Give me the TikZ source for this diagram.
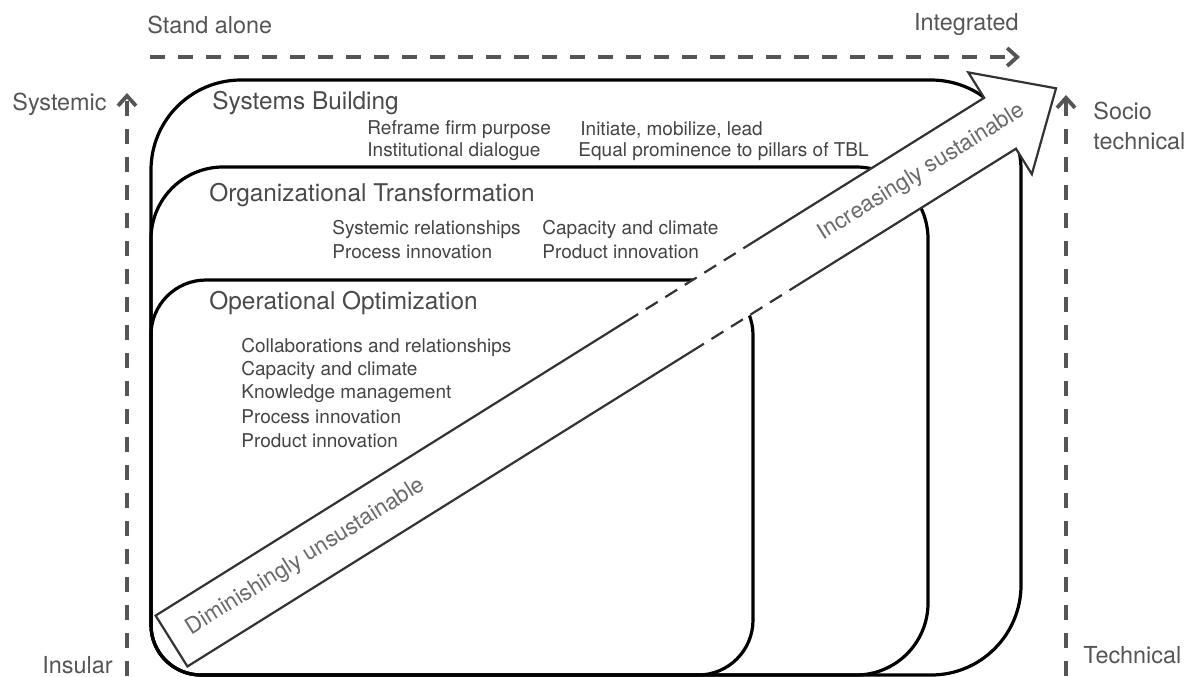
\documentclass[tikz,border=0pt]{standalone}
\usepackage{fontspec}
\setmainfont{TeX Gyre Heros}
\usetikzlibrary{arrows.meta}
\definecolor{axisgray}{HTML}{555555}
\definecolor{titlegray}{HTML}{4A4A4A}
\definecolor{itemgray}{HTML}{444444}
\definecolor{arrowgray}{HTML}{6A6A6A}
\definecolor{edgegray}{HTML}{333333}
\begin{document}
\begin{tikzpicture}[x=0.5pt,y=-0.5pt,
  box/.style={draw=black, line width=1.6pt},
  axis/.style={draw=axisgray, line width=1.9pt, dash pattern=on 7.5pt off 6.5pt,
    -{Straight Barb[length=5pt,width=9pt]}},
  axislabel/.style={font=\fontsize{11.7}{14}\selectfont, text=axisgray, inner sep=0pt},
  title/.style={font=\fontsize{12.2}{14}\selectfont, text=titlegray, inner sep=0pt, anchor=west},
  item/.style={font=\fontsize{9.5}{11}\selectfont, text=itemgray, inner sep=0pt, anchor=west},
  arrowtext/.style={font=\fontsize{11.2}{13}\selectfont, text=arrowgray, inner sep=0pt, anchor=west, rotate=32},
  arrowedge/.style={draw=edgegray, line width=1.1pt, line join=miter},
  arrowdash/.style={arrowedge, dash pattern=on 7pt off 4.5pt},
]
% canvas
\fill[white] (0,0) rectangle (1192,676);
\useasboundingbox (0,0) rectangle (1192,676);

% axis arrows
\coordinate (hs) at (150,57);
\coordinate (he) at (1020,57);
\coordinate (ls) at (127,676);
\coordinate (le) at (127,93);
\coordinate (rs) at (1066,676);
\coordinate (re) at (1066,95);
\draw[axis] (hs) -- (he);
\draw[axis] (ls) -- (le);
\draw[axis] (rs) -- (re);

\node[axislabel, anchor=west] (standalone) at (147,25) {Stand alone};
\node[axislabel, anchor=east] (integrated) at (1019,25) {Integrated};
\node[axislabel, anchor=east] (systemic) at (107,104) {Systemic};
\node[axislabel, anchor=east] (insular) at (113,665) {Insular};
\node[axislabel, anchor=west] (socio) at (1093,111) {Socio};
\node[axislabel, anchor=west] (sociotech) at (1093,141) {technical};
\node[axislabel, anchor=west] (technical) at (1083,655) {Technical};

% Systems Building frame
\draw[box] (151,625) -- (151,170) arc[start angle=180,end angle=270,radius=90]
  -- (931,80) arc[start angle=270,end angle=360,radius=90]
  -- (1021,585) arc[start angle=0,end angle=90,radius=90]
  -- (201,675) arc[start angle=90,end angle=180,radius=50] -- cycle;
% Organizational Transformation frame
\draw[box] (151,625) -- (151,239) arc[start angle=180,end angle=270,radius=72]
  -- (856,167) arc[start angle=270,end angle=360,radius=72]
  -- (928,603) arc[start angle=0,end angle=90,radius=72]
  -- (201,675) arc[start angle=90,end angle=180,radius=50] -- cycle;
% Operational Optimization frame
\draw[box] (151,625) -- (151,335) arc[start angle=180,end angle=270,radius=55]
  -- (698,280) arc[start angle=270,end angle=360,radius=55]
  -- (753,620) arc[start angle=0,end angle=90,radius=55]
  -- (201,675) arc[start angle=90,end angle=180,radius=50] -- cycle;

% frame titles and contents
\node[title] (sbtitle) at (212,103) {Systems Building};
\node[item] (sb1) at (367,130) {Reframe firm purpose};
\node[item] (sb2) at (367,152) {Institutional dialogue};
\node[item] (sb3) at (580,130) {Initiate, mobilize, lead};
\node[item] (sb4) at (578,152) {Equal prominence to pillars of TBL};

\node[title] (ottitle) at (209,195) {Organizational Transformation};
\node[item] (ot1) at (332,229) {Systemic relationships};
\node[item] (ot2) at (332,252) {Process innovation};
\node[item] (ot3) at (542,229) {Capacity and climate};
\node[item] (ot4) at (542,252) {Product innovation};

\node[title] (ootitle) at (209,303) {Operational Optimization};
\node[item] (oo1) at (241,347) {Collaborations and relationships};
\node[item] (oo2) at (241,370) {Capacity and climate};
\node[item] (oo3) at (241,394) {Knowledge management};
\node[item] (oo4) at (241,417) {Process innovation};
\node[item] (oo5) at (241,441) {Product innovation};

% big diagonal arrow
\begin{scope}[shift={(171.5,641)}, rotate=32]
  \coordinate (bt) at (0,-30);
  \coordinate (bb) at (0,30);
  \coordinate (nt) at (977,-30);
  \coordinate (nb) at (977,30);
  \coordinate (wt) at (977,-60);
  \coordinate (wb) at (977,60);
  \coordinate (tip) at (1043,0);
  \coordinate (td1) at (555,-30);
  \coordinate (td2) at (697,-30);
  \coordinate (bd1) at (595,30);
  \coordinate (bd2) at (718,30);
  \coordinate (dimpos) at (20,0);
  \coordinate (incpos) at (765,0);
\end{scope}
\fill[white] (bt) -- (nt) -- (wt) -- (tip) -- (wb) -- (nb) -- (bb) -- cycle;
\draw[arrowedge] (td1) -- (bt) -- (bb) -- (bd1);
\draw[arrowdash] (td1) -- (td2);
\draw[arrowedge] (td2) -- (nt) -- (wt) -- (tip) -- (wb) -- (nb) -- (bd2);
\draw[arrowdash] (bd1) -- (bd2);

\node[arrowtext] (dim) at (dimpos) {Diminishingly unsustainable};
\node[arrowtext] (inc) at (incpos) {Increasingly sustainable};
\end{tikzpicture}
\end{document}
